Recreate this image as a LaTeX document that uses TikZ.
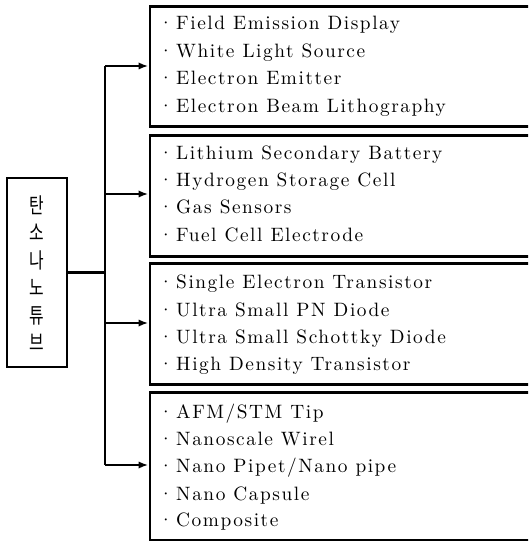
\documentclass[tikz,border=0pt]{standalone}
\usepackage{fontspec}
\newfontfamily\krfont{Noto Sans CJK KR}
\newfontfamily\itemfont{lmroman10-regular.otf}[LetterSpace=8]
\usetikzlibrary{arrows.meta}
\newcommand\tallk[1]{\scalebox{0.85}[1.15]{#1}}
\newcommand\bul{·\hspace{2.2pt}}
\tikzset{
  panel/.style={draw, line width=2pt, minimum width=330pt, anchor=north west, inner sep=0pt},
  item/.style={anchor=base west, inner sep=0pt, font=\itemfont\fontsize{14.5}{17}\selectfont},
  link/.style={line width=1.6pt},
  arr/.style={line width=1.6pt, -{Latex[length=7.5pt,width=5.5pt]}},
  rootbox/.style={draw, line width=2pt, minimum width=45pt, minimum height=141.75pt, inner sep=0pt}
}
\begin{document}
\begin{tikzpicture}[x=0.75pt,y=-0.75pt]
\useasboundingbox (0,0) rectangle (528,541);
\clip (0,0) rectangle (528,541);
% panels
\node[panel, minimum height=90pt] (b1) at (148.5,5) {};
\node[panel, minimum height=90.75pt] (b2) at (148.5,134) {};
\node[panel, minimum height=90.75pt] (b3) at (148.5,262) {};
\node[panel, minimum height=111pt] (b4) at (148.5,391) {};
% root
\node[rootbox] (root) at (37,272.5) {};
\node[font=\krfont\fontsize{14}{20.6}\selectfont, align=center, inner sep=0pt] (rt) at (37,273) {\tallk{탄}\\\tallk{소}\\\tallk{나}\\\tallk{노}\\\tallk{튜}\\\tallk{브}};
% trunk
\coordinate (t1) at (105,66);
\coordinate (t2) at (105,194);
\coordinate (t3) at (105,323);
\coordinate (t4) at (105,465);
\draw[link] (t1) -- (t4);
\draw[link] (root.east) -- (root.east -| t1);
\draw[arr] (t1) -- (t1 -| b1.west);
\draw[arr] (t2) -- (t2 -| b2.west);
\draw[arr] (t3) -- (t3 -| b3.west);
\draw[arr] (t4) -- (t4 -| b4.west);
% items
\node[item] (i11) at (158,30) {\bul Field Emission Display};
\node[item] (i12) at (158,57.5) {\bul White Light Source};
\node[item] (i13) at (158,85) {\bul Electron Emitter};
\node[item] (i14) at (158,112.5) {\bul Electron Beam Lithography};
\node[item] (i21) at (158,159.3) {\bul Lithium Secondary Battery};
\node[item] (i22) at (158,186.7) {\bul Hydrogen Storage Cell};
\node[item] (i23) at (158,214) {\bul Gas Sensors};
\node[item] (i24) at (158,241.3) {\bul Fuel Cell Electrode};
\node[item] (i31) at (158,288.3) {\bul Single Electron Transistor};
\node[item] (i32) at (158,316) {\bul Ultra Small PN Diode};
\node[item] (i33) at (158,343.3) {\bul Ultra Small Schottky Diode};
\node[item] (i34) at (158,370.7) {\bul High Density Transistor};
\node[item] (i41) at (158,418.3) {\bul AFM/STM Tip};
\node[item] (i42) at (158,445.3) {\bul Nanoscale Wirel};
\node[item] (i43) at (158,472.7) {\bul Nano Pipet/Nano pipe};
\node[item] (i44) at (158,500) {\bul Nano Capsule};
\node[item] (i45) at (158,526.7) {\bul Composite};
\end{tikzpicture}
\end{document}
